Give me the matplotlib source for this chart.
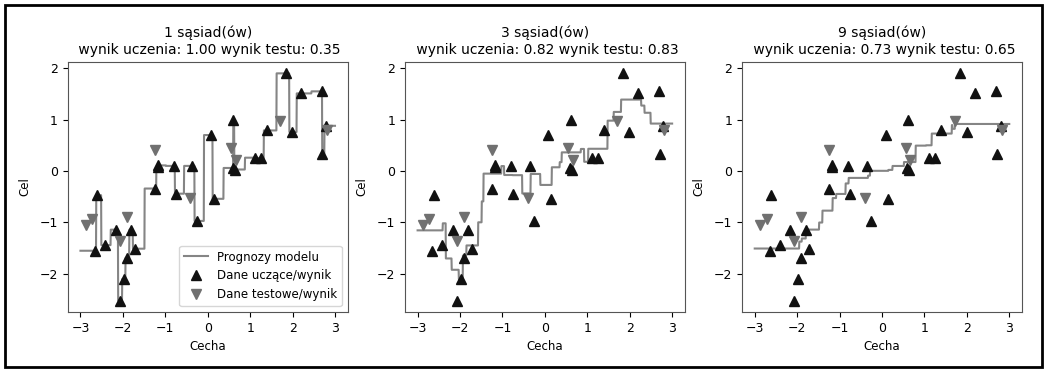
import numpy as np
import matplotlib
matplotlib.use("Agg")
from matplotlib import pyplot as plt
from matplotlib.patches import Rectangle

# dane uczace (cecha, cel)
X_train = [-2.6515, -2.6097, -2.4140, -2.1630, -2.0640, -1.9769, -1.8996, -1.8020,
           -1.7260, -1.2471, -1.1745, -1.1723, -0.8018, -0.7527, -0.3591, -0.2636,
           0.0854, 0.1485, 0.5920, 0.6067, 0.6453, 1.1054, 1.2484, 1.3920,
           1.8504, 1.9947, 2.1971, 2.6933, 2.7043, 2.7938]
y_train = [-1.55, -0.47, -1.44, -1.14, -2.52, -2.10, -1.69, -1.14,
           -1.51, -0.34, 0.08, 0.11, 0.10, -0.44, 0.10, -0.97,
           0.70, -0.54, 0.06, 1.00, 0.03, 0.26, 0.25, 0.79,
           1.90, 0.76, 1.51, 1.55, 0.34, 0.88]

# dane testowe
X_test = [-2.8765, -2.7213, -2.0639, -1.9091, -1.2526, -0.4083, 0.5545, 0.6711, 1.7111, 2.8195]
y_test = [-1.05, -0.94, -1.37, -0.89, 0.40, -0.52, 0.45, 0.22, 0.98, 0.80]

n_neighbors = [1, 3, 9]
wyniki_uczenia = [1.00, 0.82, 0.73]
wyniki_testu = [0.35, 0.83, 0.65]


def knn_predict(x_tr, y_tr, x_new, k):
    x_tr = np.asarray(x_tr)
    y_tr = np.asarray(y_tr)
    dist = np.abs(x_new[:, None] - x_tr[None, :])
    idx = np.argsort(dist, axis=1, kind="stable")[:, :k]
    return y_tr[idx].mean(axis=1)


line = np.linspace(-3, 3, 1000)

fig = plt.figure(figsize=(10.47, 3.69), dpi=100)
left, bottom, width, height = 0.0647, 0.1545, 0.2674, 0.6775
step = 0.322

for i, (k, tr, te) in enumerate(zip(n_neighbors, wyniki_uczenia, wyniki_testu)):
    ax = fig.add_axes([left + i * step, bottom, width, height])
    ax.plot(line, knn_predict(X_train, y_train, line, k), color="#858585", lw=1.5)
    ax.plot(X_train, y_train, "^", color="#111111", markersize=7.5)
    ax.plot(X_test, y_test, "v", color="#707070", markersize=7.5)
    ax.set_title("{} sąsiad(ów)\n wynik uczenia: {:.2f} wynik testu: {:.2f}".format(k, tr, te),
                 fontsize=10)
    ax.set_xlabel("Cecha", fontsize=8.5)
    ax.set_ylabel("Cel", fontsize=8.5, labelpad=6)
    ax.tick_params(labelsize=9)
    ax.set_xticks([-3, -2, -1, 0, 1, 2, 3])
    ax.set_yticks([-2, -1, 0, 1, 2])
    for s in ax.spines.values():
        s.set_color("#555555")
    if i == 0:
        ax.legend(["Prognozy modelu", "Dane uczące/wynik", "Dane testowe/wynik"],
                  loc="lower right", fontsize=8.5)

# ramka wokol calego rysunku
fig.patches.append(Rectangle((0.005, 0.005), 0.99, 0.982, transform=fig.transFigure,
                             fill=False, edgecolor="black", lw=2))

fig.savefig("out.png", dpi=100)
